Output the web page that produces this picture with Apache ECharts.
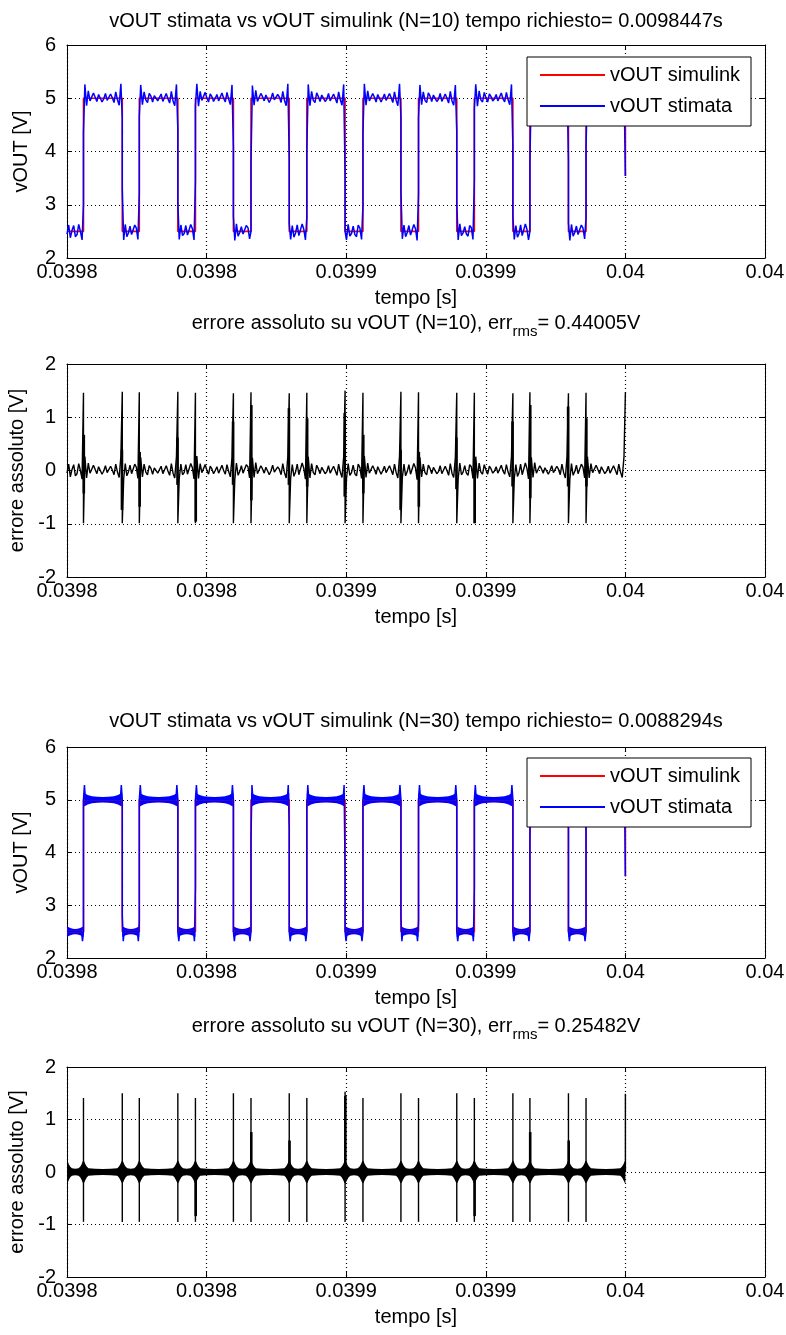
<!DOCTYPE html>
<html>
<head>
<meta charset="utf-8">
<script src="https://cdn.jsdelivr.net/npm/echarts@6/dist/echarts.min.js"></script>
<style>
html,body{margin:0;padding:0;background:#ffffff;}
#chart{width:786px;height:1335px;}
</style>
</head>
<body>
<div id="chart"></div>
<script>
// ---------------- DATA (time in microseconds after 0.0398 s) ----------------
const xTickLabels = ['0.0398', '0.0398', '0.0399', '0.0399', '0.04', '0.04'];
const riseT = [5.9, 25.9, 46.0, 65.9, 85.9, 106.0, 125.9, 145.9, 165.8, 185.9];
const fallT = [19.8, 39.7, 59.6, 79.6, 99.6, 119.6, 139.6, 159.7, 179.6];
const endT = 200;
const simLevels = [2.5, 5.0];

// N=10 : visible extents of the red (simulink) trace at each edge
const riseA10 = [3.00, 3.22, 3.46, 2.50, 2.77, 2.99, 3.20, 3.46, 2.50, 2.76];
const riseB10 = [4.35, 4.65, 4.85, 3.78, 4.02, 4.34, 4.63, 4.81, 3.78, 4.06];
const fallA10 = [4.62, 4.40, 4.09, 3.87, 3.55, 4.64, 4.37, 4.09, 3.84];
const fallB10 = [3.28, 3.03, 2.79, 2.65, 2.50, 3.27, 3.03, 2.79, 2.66];
const endV10 = 3.54;

// N=10 : vOUT stimata samples on the high plateaus
const hi10 = [
  [5.26, 4.86, 5.14, 4.95, 4.93, 5.10, 5.02, 4.94, 5.07, 5.04, 4.93, 4.99, 5.09, 4.96, 4.95, 5.08, 5.01, 4.92, 5.12, 4.97, 4.87, 5.27],
  [5.25, 4.88, 5.12, 4.97, 4.92, 5.09, 5.04, 4.93, 5.05, 5.06, 4.95, 4.98, 5.08, 4.94, 4.97, 5.09, 4.99, 4.91, 5.13, 4.95, 4.86, 5.26],
  [5.27, 4.85, 5.13, 4.96, 4.94, 5.11, 5.00, 4.93, 5.08, 5.03, 4.94, 5.00, 5.07, 4.95, 4.96, 5.10, 5.00, 4.93, 5.11, 4.98, 4.88, 5.25],
  [5.24, 4.87, 5.15, 4.94, 4.93, 5.09, 5.03, 4.95, 5.06, 5.05, 4.92, 4.99, 5.10, 4.97, 4.94, 5.07, 5.02, 4.92, 5.13, 4.96, 4.86, 5.27],
  [5.26, 4.86, 5.13, 4.96, 4.92, 5.10, 5.03, 4.94, 5.06, 5.05, 4.94, 4.98, 5.09, 4.95, 4.96, 5.08, 5.00, 4.91, 5.12, 4.97, 4.87, 5.26],
  [5.27, 4.87, 5.14, 4.95, 4.94, 5.09, 5.02, 4.93, 5.07, 5.04, 4.93, 5.00, 5.08, 4.96, 4.95, 5.09, 5.01, 4.92, 5.12, 4.96, 4.86, 5.27],
  [5.25, 4.88, 5.12, 4.96, 4.92, 5.10, 5.04, 4.94, 5.06, 5.06, 4.94, 4.98, 5.09, 4.94, 4.96, 5.08, 5.00, 4.91, 5.13, 4.95, 4.87, 5.25],
  [5.26, 4.85, 5.14, 4.97, 4.93, 5.11, 5.01, 4.93, 5.08, 5.03, 4.95, 4.99, 5.07, 4.95, 4.97, 5.10, 4.99, 4.93, 5.11, 4.97, 4.88, 5.26],
  [5.25, 4.87, 5.15, 4.95, 4.93, 5.09, 5.03, 4.95, 5.05, 5.05, 4.93, 5.00, 5.09, 4.96, 4.94, 5.08, 5.02, 4.92, 5.12, 4.96, 4.86, 5.27],
  [5.26, 4.86, 5.13, 4.96, 4.94, 5.10, 5.02, 4.94, 5.07, 5.04, 4.94, 4.99, 5.08, 4.95, 4.96, 5.09, 5.01, 4.92, 5.12, 4.97, 4.87, 5.26]
];
// N=10 : vOUT stimata samples on the low plateaus (first = start of window)
const lo10 = [
  [2.45, 2.62, 2.38, 2.52, 2.61, 2.40, 2.44, 2.63, 2.50, 2.34],
  [2.34, 2.63, 2.40, 2.47, 2.60, 2.44, 2.41, 2.62, 2.56, 2.35],
  [2.35, 2.62, 2.42, 2.46, 2.61, 2.43, 2.40, 2.63, 2.55, 2.34],
  [2.33, 2.64, 2.41, 2.48, 2.59, 2.45, 2.42, 2.61, 2.57, 2.36],
  [2.35, 2.61, 2.39, 2.47, 2.62, 2.42, 2.41, 2.64, 2.54, 2.34],
  [2.34, 2.63, 2.41, 2.46, 2.60, 2.44, 2.40, 2.62, 2.56, 2.35],
  [2.36, 2.62, 2.40, 2.48, 2.61, 2.43, 2.42, 2.63, 2.55, 2.33],
  [2.34, 2.64, 2.42, 2.47, 2.59, 2.45, 2.41, 2.61, 2.57, 2.35],
  [2.35, 2.61, 2.39, 2.46, 2.62, 2.42, 2.40, 2.64, 2.54, 2.34],
  [2.33, 2.63, 2.41, 2.48, 2.60, 2.44, 2.42, 2.62, 2.56, 2.36]
];

// N=10 error spikes at edges: [top, bottom], thick part [hi, lo]
const riseSpike10 = [[1.46,-0.99],[1.47,-0.99],[1.46,-0.99],[1.47,-0.99],[1.46,-0.99],[1.46,-0.99],[1.47,-0.99],[1.46,-0.99],[1.47,-0.99],[1.46,-0.99]];
const riseThick10 = [[0.67,-0.43],[0.35,-0.68],[0.26,-0.96],[1.23,-0.56],[0.98,-0.30],[0.67,-0.43],[0.35,-0.68],[0.22,-0.99],[1.23,-0.52],[0.98,-0.30]];
const fallSpike10 = [[1.48,-0.99],[1.48,-0.99],[1.45,-0.99],[1.45,-0.99],[1.50,-0.99],[1.48,-0.99],[1.46,-0.99],[1.45,-0.99],[1.45,-0.99]];
const fallThick10 = [[0.39,-0.74],[0.62,-0.27],[0.92,-0.27],[1.17,-0.27],[1.08,-0.49],[0.39,-0.74],[0.62,-0.35],[0.92,-0.30],[1.20,-0.30]];
const endErr10 = 1.47;

// N=30 : visible extents of the red trace at each edge
const riseA30 = [2.50, 2.70, 3.36, 2.50, 2.50, 2.50, 2.70, 3.33, 2.50, 2.50];
const riseB30 = [5.00, 5.00, 5.00, 4.24, 4.90, 5.00, 5.00, 5.00, 4.24, 4.90];
const fallA30 = [5.00, 5.00, 5.00, 4.43, 3.58, 5.00, 5.00, 5.00, 4.45];
const fallB30 = [2.79, 2.50, 2.50, 2.50, 2.50, 2.79, 2.50, 2.50, 2.50];
const endV30 = 3.55;
const overshoot30 = [2.32, 5.28];   // [undershoot low, overshoot high]
// N=30 ripple band half-width along a plateau: [fraction of plateau, half width V]
const envLo30 = [[0,0.10],[0.08,0.09],[0.2,0.07],[0.35,0.055],[0.5,0.05],[0.65,0.055],[0.8,0.07],[0.92,0.09],[1,0.10]];
const envHi30 = [[0,0.13],[0.04,0.12],[0.11,0.09],[0.22,0.065],[0.36,0.055],[0.5,0.05],[0.64,0.055],[0.78,0.065],[0.89,0.09],[0.96,0.12],[1,0.13]];

// N=30 error: band half width, spikes [top, bottom], thick ends
const envErrLo30 = [[0,0.22],[0.05,0.2],[0.11,0.15],[0.2,0.1],[0.3,0.07],[0.5,0.06],[0.7,0.07],[0.8,0.1],[0.89,0.15],[0.95,0.2],[1,0.22]];
const envErrHi30 = [[0,0.22],[0.02,0.2],[0.05,0.15],[0.09,0.1],[0.13,0.07],[0.3,0.06],[0.5,0.055],[0.7,0.06],[0.87,0.07],[0.91,0.1],[0.95,0.15],[0.98,0.2],[1,0.22]];
const riseSpike30 = [[1.41,-0.95],[1.41,-0.95],[1.41,-0.95],[1.41,-0.95],[1.41,-0.95],[1.41,-0.95],[1.41,-0.95],[1.41,-0.95],[1.41,-0.95],[1.41,-0.95]];
const riseThick30 = [0, 0, -0.84, 0.76, 0, 0, 0, -0.84, 0.76, 0];
const fallSpike30 = [[1.50,-0.95],[1.50,-0.95],[1.50,-0.95],[1.50,-0.95],[1.53,-0.95],[1.50,-0.95],[1.50,-0.95],[1.50,-0.95],[1.50,-0.95]];
const fallThick30 = [0, 0, 0, 0.60, 1.45, 0, 0, 0, 0.60];
const endErr30 = 1.49;

// ---------------- BUILD ----------------
const FONT = "'Liberation Sans', Arial, Helvetica, sans-serif";
const LO = simLevels[0], HI = simLevels[1];

function samples(t0, t1, vals, sub) {
  const n = vals.length;
  return vals.map((v, k) => [t0 + k * (t1 - t0) / (n - 1), +(v - (sub || 0)).toFixed(3)]);
}
function redPath(endV) {
  const p = [[0, LO]];
  riseT.forEach((tr, i) => {
    p.push([tr, LO], [tr, HI]);
    if (i < fallT.length) p.push([fallT[i], HI], [fallT[i], LO]);
    else p.push([endT, HI], [endT, endV]);
  });
  return p;
}
function stim10() {
  const p = samples(0, riseT[0] - 0.5, lo10[0]);
  riseT.forEach((tr, i) => {
    p.push([tr, riseA10[i]], [tr, riseB10[i]]);
    const te = i < fallT.length ? fallT[i] : endT;
    p.push(...samples(tr + 0.5, te - 0.5, hi10[i]));
    if (i < fallT.length) {
      p.push([te, fallA10[i]], [te, fallB10[i]]);
      p.push(...samples(te + 0.5, riseT[i + 1] - 0.5, lo10[i + 1]));
    } else p.push([endT, endV10]);
  });
  return p;
}
function err10() {
  const p = samples(0, riseT[0] - 0.5, lo10[0], LO);
  riseT.forEach((tr, i) => {
    p.push([tr, riseSpike10[i][0]], [tr, riseSpike10[i][1]]);
    const te = i < fallT.length ? fallT[i] : endT;
    p.push(...samples(tr + 0.5, te - 0.5, hi10[i], HI));
    if (i < fallT.length) {
      p.push([te, fallSpike10[i][0]], [te, fallSpike10[i][1]]);
      p.push(...samples(te + 0.5, riseT[i + 1] - 0.5, lo10[i + 1], LO));
    } else p.push([endT, endErr10]);
  });
  return p;
}
function thick10() {
  const d = riseT.map((t, i) => [t + 0.12, riseThick10[i][0], riseThick10[i][1]]);
  fallT.forEach((t, i) => d.push([t - 0.12, fallThick10[i][0], fallThick10[i][1]]));
  return d;
}
function stim30() {
  const p = [[0, LO]];
  riseT.forEach((tr, i) => {
    p.push([tr - 0.7, LO], [tr - 0.35, overshoot30[0]], [tr, riseA30[i]], [tr, riseB30[i]], [tr + 0.35, overshoot30[1]], [tr + 0.7, HI]);
    if (i < fallT.length) {
      const tf = fallT[i];
      p.push([tf - 0.7, HI], [tf - 0.35, overshoot30[1]], [tf, fallA30[i]], [tf, fallB30[i]], [tf + 0.35, overshoot30[0]], [tf + 0.7, LO]);
    } else p.push([endT - 0.7, HI], [endT - 0.35, overshoot30[1]], [endT, endV30]);
  });
  return p;
}
function plateaus(level) {
  // [t0, t1, centre, kind(0 low / 1 high)]
  const d = [[0, riseT[0], level ? LO : 0, 0]];
  riseT.forEach((tr, i) => {
    const te = i < fallT.length ? fallT[i] : endT;
    d.push([tr, te, level ? HI : 0, 1]);
    if (i < fallT.length) d.push([te, riseT[i + 1], level ? LO : 0, 0]);
  });
  return d;
}
function spikes30() {
  const d = riseT.map((t, i) => [t, riseSpike30[i][0], riseSpike30[i][1]]);
  fallT.forEach((t, i) => d.push([t, fallSpike30[i][0], fallSpike30[i][1]]));
  d.push([endT, endErr30, 0]);
  return d;
}
function thick30() {
  const d = [];
  riseT.forEach((t, i) => { if (riseThick30[i]) d.push([t + 0.1, 0, riseThick30[i]]); });
  fallT.forEach((t, i) => { if (fallThick30[i]) d.push([t + 0.1, 0, fallThick30[i]]); });
  return d;
}
function bandRenderer(envLo, envHi, color) {
  return function (params, api) {
    const t0 = api.value(0), t1 = api.value(1), c = api.value(2), kind = api.value(3);
    const env = kind ? envHi : envLo;
    const up = env.map(e => api.coord([t0 + e[0] * (t1 - t0), c + e[1]]));
    const dn = env.slice().reverse().map(e => api.coord([t0 + e[0] * (t1 - t0), c - e[1]]));
    return { type: 'polygon', shape: { points: up.concat(dn) }, style: { fill: color } };
  };
}
function vlineRenderer(width) {
  return function (params, api) {
    const a = api.coord([api.value(0), api.value(1)]);
    const b = api.coord([api.value(0), api.value(2)]);
    return { type: 'line', shape: { x1: a[0], y1: a[1], x2: b[0], y2: b[1] }, style: { stroke: '#000', lineWidth: width } };
  };
}

// ---------------- LAYOUT ----------------
const grids = [
  { left: 67, top: 45, width: 698, height: 213 },
  { left: 67, top: 364, width: 698, height: 213 },
  { left: 67, top: 747, width: 698, height: 211 },
  { left: 67, top: 1067, width: 698, height: 210 }
];
const yRanges = [[2, 6], [-2, 2], [2, 6], [-2, 2]];
const yNames = ['vOUT [V]', 'errore assoluto [V]', 'vOUT [V]', 'errore assoluto [V]'];
const txt = { color: '#000', fontSize: 20, fontFamily: FONT };
const xAxis = [], yAxis = [];
grids.forEach((g, i) => {
  g.outerBoundsMode = 'none';
  g.containLabel = false;
  const base = {
    gridIndex: i, type: 'value',
    axisLine: { show: true, onZero: false, lineStyle: { color: '#000', width: 1 } },
    axisTick: { show: true, inside: true, length: 5, lineStyle: { color: '#000', width: 1 } }
  };
  xAxis.push(Object.assign({}, base, {
    position: 'bottom', min: 0, max: 250, interval: 50,
    axisLabel: Object.assign({ margin: 4, showMinLabel: true, showMaxLabel: true,
      formatter: v => xTickLabels[Math.round(v / 50)] }, txt),
    splitLine: { show: true, lineStyle: { color: '#000', width: 1.2, type: [1, 3] } },
    name: 'tempo [s]', nameLocation: 'middle', nameGap: 30, nameTextStyle: txt
  }));
  xAxis.push(Object.assign({}, base, {
    position: 'top', min: 0, max: 250, interval: 50,
    axisLabel: { show: false }, splitLine: { show: false }
  }));
  yAxis.push(Object.assign({}, base, {
    position: 'left', min: yRanges[i][0], max: yRanges[i][1], interval: 1,
    axisLabel: Object.assign({ margin: 11, showMinLabel: true, showMaxLabel: true }, txt),
    splitLine: { show: true, lineStyle: { color: '#000', width: 1.2, type: [1, 3] } },
    name: yNames[i], nameLocation: 'middle', nameRotate: 90, nameGap: 36, nameTextStyle: txt
  }));
  yAxis.push(Object.assign({}, base, {
    position: 'right', min: yRanges[i][0], max: yRanges[i][1], interval: 1,
    axisLabel: { show: false }, splitLine: { show: false }
  }));
});

const RED = '#ff0000', BLUE = '#0000ff';
function lineSeries(name, g, data, color, width) {
  return { name, type: 'line', xAxisIndex: 2 * g, yAxisIndex: 2 * g, data,
    showSymbol: false, symbol: 'none', color, itemStyle: { color },
    lineStyle: { color, width }, clip: true, z: 3 };
}
const series = [
  lineSeries('vOUT simulink', 0, redPath(endV10), RED, 1.6),
  lineSeries('vOUT stimata', 0, stim10(), BLUE, 1.5),
  lineSeries('errore N=10', 1, err10(), '#000', 1.4),
  { name: 'thick10', type: 'custom', xAxisIndex: 2, yAxisIndex: 2, data: thick10(),
    encode: { x: 0, y: [1, 2] }, renderItem: vlineRenderer(2.6), clip: true, z: 3 },
  lineSeries('vOUT simulink', 2, redPath(endV30), RED, 1.6),
  { name: 'band30', type: 'custom', xAxisIndex: 4, yAxisIndex: 4, data: plateaus(true),
    encode: { x: [0, 1], y: 2 }, renderItem: bandRenderer(envLo30, envHi30, BLUE), clip: true, z: 3 },
  lineSeries('vOUT stimata', 2, stim30(), BLUE, 1.5),
  { name: 'bandErr30', type: 'custom', xAxisIndex: 6, yAxisIndex: 6, data: plateaus(false),
    encode: { x: [0, 1], y: 2 }, renderItem: bandRenderer(envErrLo30, envErrHi30, '#000'), clip: true, z: 3 },
  { name: 'spikes30', type: 'custom', xAxisIndex: 6, yAxisIndex: 6, data: spikes30(),
    encode: { x: 0, y: [1, 2] }, renderItem: vlineRenderer(1.4), clip: true, z: 3 },
  { name: 'thick30', type: 'custom', xAxisIndex: 6, yAxisIndex: 6, data: thick30(),
    encode: { x: 0, y: [1, 2] }, renderItem: vlineRenderer(2.6), clip: true, z: 3 }
];

function legendAt(top) {
  return {
    data: ['vOUT simulink', 'vOUT stimata'], orient: 'vertical', left: 527, top,
    icon: 'rect', itemWidth: 65, itemHeight: 2, itemGap: 7,
    padding: [6, 11, 8, 13], borderColor: '#000', borderWidth: 1, backgroundColor: '#fff',
    borderRadius: 0, selectedMode: false, z: 10,
    textStyle: { color: '#000', fontSize: 20, lineHeight: 24, fontFamily: FONT }
  };
}
function titleText(y, main, sub, tail) {
  const a = { fontSize: 20, lineHeight: 24, verticalAlign: 'top', fontFamily: FONT, fill: '#000' };
  const s = { fontSize: 15, lineHeight: 18, verticalAlign: 'top', padding: [11, 0, 0, 0], fontFamily: FONT, fill: '#000' };
  const text = sub ? '{a|' + main + '}{s|' + sub + '}{a|' + tail + '}' : '{a|' + main + '}';
  return { type: 'text', x: 416, y, z: 20,
    style: { text, rich: { a, s }, align: 'center', verticalAlign: 'top', fill: '#000', fontSize: 20, fontFamily: FONT } };
}

const option = {
  animation: false,
  backgroundColor: '#ffffff',
  textStyle: { fontFamily: FONT },
  grid: grids, xAxis, yAxis, series,
  legend: [legendAt(57), legendAt(758)],
  graphic: [
    titleText(11, 'vOUT stimata vs vOUT simulink (N=10) tempo richiesto= 0.0098447s'),
    titleText(313, 'errore assoluto su vOUT (N=10), err', 'rms', '= 0.44005V'),
    titleText(711, 'vOUT stimata vs vOUT simulink (N=30) tempo richiesto= 0.0088294s'),
    titleText(1016, 'errore assoluto su vOUT (N=30), err', 'rms', '= 0.25482V')
  ]
};
const chart = echarts.init(document.getElementById('chart'), null, { renderer: 'canvas' });
chart.setOption(option);
</script>
</body>
</html>
